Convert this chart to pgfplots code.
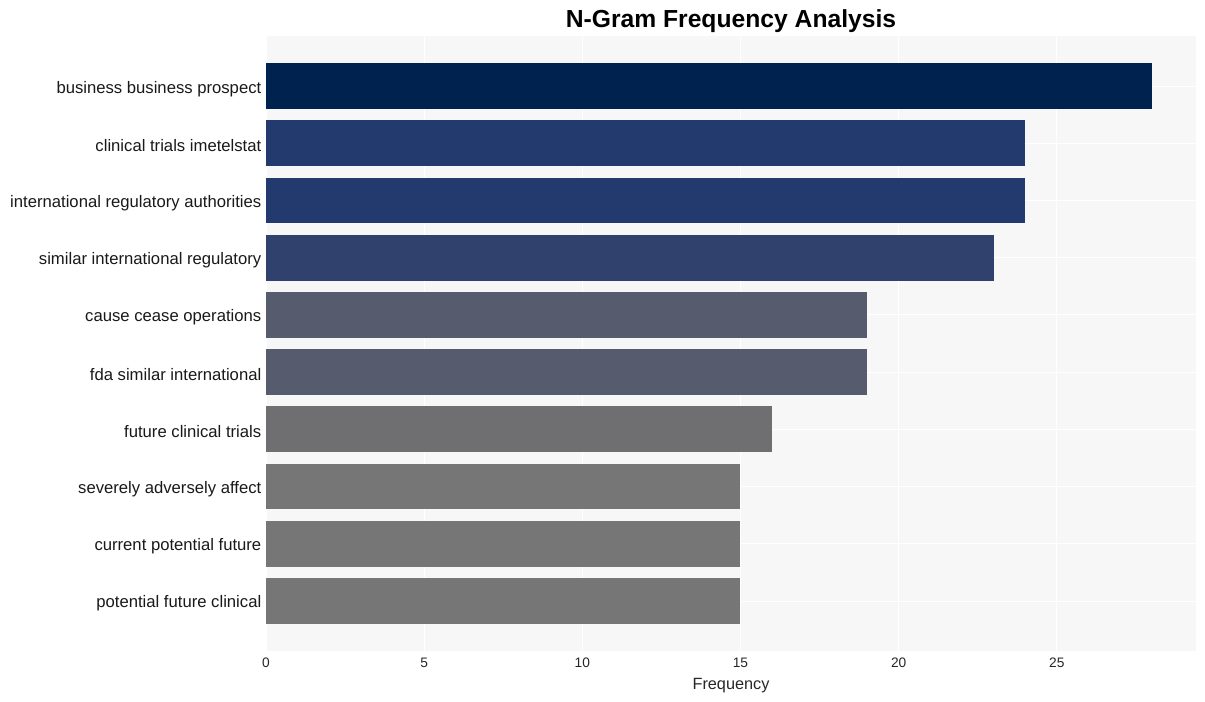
\documentclass[border=0pt]{standalone}
\usepackage{pgfplots}
\pgfplotsset{compat=1.18}
\usepackage{fontspec}
\setmainfont{Liberation Sans}
\definecolor{bgpanel}{HTML}{F7F7F7}
\definecolor{c1}{HTML}{00224E}
\definecolor{c2}{HTML}{233A6E}
\definecolor{c3}{HTML}{2F416C}
\definecolor{c4}{HTML}{565B6D}
\definecolor{c5}{HTML}{6F6F71}
\definecolor{c6}{HTML}{767676}

\begin{document}
\begin{tikzpicture}
\begin{axis}[
    name=ax,
    scale only axis,
    width=697.5pt, height=461.25pt,
    xbar, bar shift=0pt, bar width=0.8,
    xmin=0, xmax=29.4,
    ymin=-0.875, ymax=9.875,
    y dir=reverse,
    ytick={0,...,9},
    yticklabels={business business prospect, clinical trials imetelstat,
      international regulatory authorities, similar international regulatory,
      cause cease operations, fda similar international, future clinical trials,
      severely adversely affect, current potential future, potential future clinical},
    xtick={0,5,...,25},
    axis background/.style={fill=bgpanel},
    axis line style={draw=none},
    major tick length=0pt,
    xmajorgrids, ymajorgrids,
    grid style={white, line width=0.6pt},
    tick label style={font=\fontsize{10.3pt}{12pt}\selectfont, text=black!85},
    yticklabel style={font=\fontsize{12.5pt}{14pt}\selectfont, text=black!90, xshift=0pt, yshift=-2pt},
    xticklabel style={yshift=-2pt},
    /pgf/number format/assume math mode=true,
    xlabel={Frequency},
    xlabel style={font=\fontsize{12.2pt}{14pt}\selectfont, text=black!85, yshift=-1pt},
    title={\textbf{N-Gram Frequency Analysis}},
    title style={font=\fontsize{18.5pt}{21pt}\selectfont, at={(0.5,1)}, anchor=south, inner sep=0pt, yshift=-4pt},
]
\addplot[fill=c1, draw=none] coordinates {(28,0)};
\addplot[fill=c2, draw=none] coordinates {(24,1)};
\addplot[fill=c2, draw=none] coordinates {(24,2)};
\addplot[fill=c3, draw=none] coordinates {(23,3)};
\addplot[fill=c4, draw=none] coordinates {(19,4)};
\addplot[fill=c4, draw=none] coordinates {(19,5)};
\addplot[fill=c5, draw=none] coordinates {(16,6)};
\addplot[fill=c6, draw=none] coordinates {(15,7)};
\addplot[fill=c6, draw=none] coordinates {(15,8)};
\addplot[fill=c6, draw=none] coordinates {(15,9)};
\end{axis}
\pgfresetboundingbox
\path[use as bounding box] ([xshift=-199.5pt,yshift=-37.5pt]ax.south west) rectangle ([xshift=6.75pt,yshift=27pt]ax.north east);
\end{tikzpicture}
\end{document}
